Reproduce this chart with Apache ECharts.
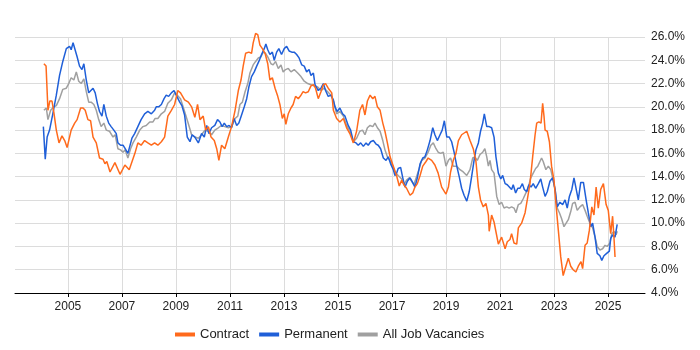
<!DOCTYPE html>
<html>
<head>
<meta charset="utf-8">
<script src="https://cdn.jsdelivr.net/npm/echarts@6/dist/echarts.min.js"></script>
<style>html,body{margin:0;padding:0;background:#fff}#c{width:700px;height:350px}</style>
</head>
<body>
<div id="c"></div>
<script>
const yearTicks = [2005, 2007, 2009, 2011, 2013, 2015, 2017, 2019, 2021, 2023, 2025];

const contractYears = [2004.11,2004.19,2004.26,2004.33,2004.41,2004.48,2004.57,2004.67,2004.78,2004.88,2004.97,2005.04,2005.12,2005.25,2005.34,2005.47,2005.56,2005.64,2005.74,2005.84,2005.93,2006.05,2006.17,2006.30,2006.37,2006.44,2006.56,2006.74,2006.93,2007.11,2007.27,2007.48,2007.59,2007.71,2007.84,2007.96,2008.09,2008.21,2008.33,2008.46,2008.58,2008.70,2008.83,2008.95,2009.07,2009.17,2009.32,2009.46,2009.58,2009.70,2009.80,2009.89,2010.01,2010.10,2010.20,2010.30,2010.42,2010.51,2010.59,2010.69,2010.81,2010.94,2011.06,2011.19,2011.31,2011.41,2011.49,2011.58,2011.70,2011.80,2011.86,2011.95,2012.03,2012.11,2012.20,2012.30,2012.40,2012.48,2012.57,2012.67,2012.77,2012.85,2012.94,2013.01,2013.07,2013.16,2013.26,2013.34,2013.43,2013.53,2013.63,2013.71,2013.80,2013.90,2014.00,2014.09,2014.17,2014.27,2014.37,2014.46,2014.54,2014.64,2014.70,2014.77,2014.83,2014.95,2015.07,2015.20,2015.32,2015.44,2015.57,2015.69,2015.81,2015.91,2016.00,2016.09,2016.19,2016.29,2016.37,2016.46,2016.56,2016.66,2016.74,2016.83,2016.93,2017.05,2017.17,2017.27,2017.36,2017.44,2017.54,2017.67,2017.77,2017.85,2017.94,2018.04,2018.14,2018.26,2018.34,2018.47,2018.59,2018.71,2018.84,2019.00,2019.09,2019.17,2019.27,2019.37,2019.46,2019.58,2019.77,2019.89,2020.01,2020.11,2020.20,2020.28,2020.38,2020.48,2020.57,2020.60,2020.69,2020.78,2020.85,2020.94,2021.06,2021.19,2021.27,2021.37,2021.43,2021.52,2021.62,2021.68,2021.80,2021.93,2022.01,2022.11,2022.21,2022.30,2022.36,2022.44,2022.52,2022.58,2022.63,2022.67,2022.75,2022.83,2022.91,2023.00,2023.07,2023.16,2023.25,2023.34,2023.44,2023.53,2023.62,2023.71,2023.81,2023.90,2024.00,2024.06,2024.15,2024.23,2024.31,2024.40,2024.48,2024.56,2024.64,2024.73,2024.83,2024.93,2025.01,2025.10,2025.17,2025.22,2025.26];
const contractValues = [23.7,23.5,19.7,20.5,20.5,19.5,18.0,16.9,17.5,17.1,16.5,16.6,18.0,18.6,18.9,19.9,19.9,19.7,18.9,18.8,17.4,16.9,15.6,15.5,15.1,15.3,14.4,15.2,14.2,15.0,14.6,16.0,16.9,16.7,17.1,16.9,16.7,16.9,16.7,17.0,17.4,19.2,19.7,20.2,21.4,21.2,20.6,20.4,20.0,19.1,20.2,18.9,19.2,18.0,18.3,17.4,17.1,16.4,15.4,16.7,16.4,17.4,18.3,19.7,21.4,22.3,23.5,24.6,24.7,24.6,25.5,26.3,26.2,25.3,25.0,24.6,23.7,22.3,22.5,21.6,20.9,20.2,19.0,19.4,18.5,19.4,19.9,20.2,20.9,20.7,21.0,21.3,21.2,21.3,21.8,21.9,21.6,20.7,21.3,21.9,22.0,21.6,21.5,21.2,19.7,19.0,18.7,19.0,18.2,17.7,16.9,17.9,19.7,20.2,19.3,20.5,21.0,20.7,20.9,20.0,19.7,18.6,17.9,16.9,15.7,14.9,14.1,13.2,13.7,13.3,13.0,12.4,12.6,13.1,13.4,14.1,14.9,15.3,15.6,15.4,15.0,14.3,13.1,12.5,13.1,14.4,15.4,16.0,17.1,17.6,17.9,17.1,16.4,15.3,13.1,12.0,11.4,11.7,10.7,9.3,10.7,10.1,10.0,8.2,8.8,7.8,8.4,8.6,9.1,8.3,8.2,9.6,10.0,10.9,12.0,13.4,15.7,17.6,18.6,18.7,18.6,20.3,19.2,18.0,17.9,17.0,14.9,13.7,11.7,9.4,7.1,5.5,6.3,7.0,6.3,6.0,5.8,6.3,6.7,6.1,8.1,8.3,9.4,11.4,10.7,13.1,11.3,12.9,13.4,11.6,11.1,9.1,10.6,8.8,7.1];

const permanentYears = [2004.09,2004.16,2004.23,2004.32,2004.44,2004.57,2004.69,2004.81,2004.94,2005.06,2005.12,2005.19,2005.25,2005.34,2005.43,2005.52,2005.59,2005.68,2005.77,2005.84,2005.93,2006.01,2006.09,2006.17,2006.26,2006.33,2006.42,2006.51,2006.60,2006.70,2006.79,2006.85,2006.95,2007.04,2007.12,2007.22,2007.29,2007.37,2007.47,2007.59,2007.71,2007.84,2007.96,2008.09,2008.21,2008.27,2008.36,2008.46,2008.56,2008.64,2008.73,2008.83,2008.93,2009.01,2009.14,2009.22,2009.32,2009.42,2009.52,2009.60,2009.70,2009.83,2009.95,2010.05,2010.14,2010.22,2010.32,2010.44,2010.54,2010.63,2010.71,2010.79,2010.88,2010.97,2011.06,2011.15,2011.25,2011.33,2011.43,2011.53,2011.62,2011.70,2011.80,2011.90,2011.99,2012.07,2012.17,2012.27,2012.33,2012.40,2012.48,2012.57,2012.64,2012.73,2012.81,2012.91,2013.01,2013.10,2013.19,2013.29,2013.38,2013.47,2013.56,2013.66,2013.75,2013.84,2013.93,2014.00,2014.09,2014.15,2014.21,2014.27,2014.37,2014.46,2014.54,2014.64,2014.74,2014.83,2014.89,2014.97,2015.07,2015.17,2015.26,2015.38,2015.47,2015.57,2015.67,2015.75,2015.84,2015.94,2016.04,2016.12,2016.21,2016.31,2016.41,2016.49,2016.58,2016.68,2016.78,2016.86,2016.95,2017.05,2017.11,2017.17,2017.23,2017.32,2017.40,2017.48,2017.57,2017.67,2017.73,2017.79,2017.85,2017.94,2018.04,2018.14,2018.22,2018.31,2018.41,2018.51,2018.59,2018.68,2018.78,2018.86,2018.94,2019.03,2019.12,2019.21,2019.30,2019.40,2019.49,2019.58,2019.67,2019.77,2019.86,2019.95,2020.04,2020.11,2020.20,2020.28,2020.36,2020.42,2020.51,2020.60,2020.69,2020.78,2020.85,2020.94,2021.03,2021.10,2021.19,2021.27,2021.34,2021.43,2021.49,2021.58,2021.66,2021.74,2021.83,2021.90,2021.99,2022.07,2022.15,2022.23,2022.32,2022.42,2022.51,2022.58,2022.67,2022.75,2022.85,2022.95,2023.04,2023.12,2023.22,2023.32,2023.41,2023.49,2023.57,2023.66,2023.74,2023.81,2023.90,2023.99,2024.09,2024.19,2024.27,2024.36,2024.43,2024.52,2024.60,2024.70,2024.77,2024.85,2024.95,2025.05,2025.10,2025.17,2025.26,2025.34];
const permanentValues = [18.3,15.5,17.4,18.0,19.4,21.0,22.7,23.9,25.0,25.2,24.9,25.5,25.4,24.3,23.5,23.2,23.7,22.3,21.2,21.2,21.6,21.2,20.3,19.6,19.2,20.2,19.2,18.6,18.3,18.0,17.7,16.9,16.7,16.7,16.4,16.0,16.6,17.3,17.7,18.3,18.9,19.4,19.6,19.4,19.7,20.0,20.0,20.2,20.7,21.0,20.9,21.2,21.4,21.0,20.4,20.1,19.3,17.4,17.0,17.6,17.4,16.9,17.7,17.4,18.4,17.7,18.2,18.4,18.9,18.7,18.3,18.6,18.3,18.4,18.2,19.0,18.4,18.6,19.3,20.0,20.7,21.7,22.6,23.0,23.5,23.9,24.5,25.0,25.4,24.9,24.5,24.7,24.0,24.7,25.0,24.5,25.0,25.2,24.8,24.7,24.7,24.5,24.2,23.6,23.5,23.0,23.2,22.7,22.9,21.9,22.0,21.4,21.6,22.0,21.4,20.9,21.0,20.6,20.0,19.6,19.9,19.4,19.2,18.4,18.0,17.0,16.9,16.7,16.9,16.6,16.9,16.7,17.0,17.1,16.8,16.7,16.4,15.6,15.4,15.7,15.1,14.6,14.1,14.3,14.7,14.8,13.9,13.1,13.6,13.9,13.8,13.4,13.1,13.9,15.1,15.6,15.7,16.3,17.1,18.2,17.6,17.1,17.6,18.0,18.8,17.4,17.4,17.0,16.1,14.9,14.0,13.0,12.4,11.9,12.7,14.0,15.4,16.3,16.9,17.9,18.6,19.4,18.3,18.3,18.2,17.4,15.7,14.3,13.8,14.1,13.4,13.3,13.4,12.9,13.3,12.6,13.0,13.0,13.4,12.9,12.7,13.3,13.1,13.4,13.0,13.4,13.8,13.1,12.3,12.7,13.6,13.9,12.9,11.4,11.8,11.6,12.0,11.3,12.3,12.9,13.9,13.8,12.0,13.5,13.5,12.0,10.9,9.7,10.0,8.8,7.4,7.2,6.8,7.2,7.4,7.6,8.7,9.0,8.8,9.9];

const allYears = [2004.11,2004.20,2004.26,2004.36,2004.48,2004.57,2004.69,2004.81,2004.94,2005.03,2005.12,2005.22,2005.31,2005.40,2005.49,2005.59,2005.68,2005.77,2005.86,2005.96,2006.05,2006.14,2006.23,2006.33,2006.42,2006.54,2006.67,2006.75,2006.85,2006.95,2007.04,2007.12,2007.22,2007.32,2007.41,2007.53,2007.66,2007.78,2007.90,2008.03,2008.15,2008.23,2008.33,2008.46,2008.58,2008.70,2008.83,2008.95,2009.05,2009.17,2009.32,2009.44,2009.58,2009.70,2009.83,2009.95,2010.07,2010.20,2010.32,2010.44,2010.57,2010.69,2010.81,2010.94,2011.06,2011.19,2011.29,2011.37,2011.46,2011.56,2011.66,2011.74,2011.86,2011.95,2012.05,2012.15,2012.23,2012.32,2012.42,2012.52,2012.60,2012.69,2012.79,2012.89,2012.97,2013.06,2013.16,2013.26,2013.38,2013.51,2013.63,2013.75,2013.88,2014.00,2014.12,2014.25,2014.37,2014.49,2014.62,2014.74,2014.83,2014.95,2015.07,2015.20,2015.32,2015.44,2015.57,2015.69,2015.81,2015.91,2016.00,2016.09,2016.19,2016.29,2016.37,2016.46,2016.56,2016.66,2016.74,2016.83,2016.93,2017.03,2017.11,2017.23,2017.36,2017.44,2017.54,2017.64,2017.73,2017.81,2017.91,2018.01,2018.10,2018.22,2018.34,2018.44,2018.53,2018.63,2018.71,2018.80,2018.90,2019.00,2019.09,2019.17,2019.27,2019.40,2019.52,2019.64,2019.77,2019.89,2019.99,2020.07,2020.16,2020.26,2020.36,2020.44,2020.51,2020.57,2020.63,2020.69,2020.78,2020.88,2020.97,2021.06,2021.15,2021.25,2021.34,2021.43,2021.52,2021.59,2021.68,2021.77,2021.86,2021.96,2022.05,2022.14,2022.23,2022.32,2022.40,2022.48,2022.54,2022.60,2022.70,2022.79,2022.88,2022.95,2023.04,2023.12,2023.20,2023.28,2023.37,2023.44,2023.53,2023.62,2023.69,2023.78,2023.86,2023.96,2024.06,2024.15,2024.23,2024.33,2024.43,2024.52,2024.60,2024.70,2024.80,2024.89,2024.97,2025.07,2025.14,2025.22,2025.30,2025.34];
const allValues = [19.7,19.9,18.9,19.7,20.0,20.1,20.7,21.5,21.6,22.0,22.5,22.3,23.0,22.2,22.0,22.4,21.3,20.4,20.4,20.2,19.7,18.9,18.3,18.6,18.0,17.9,17.4,17.6,16.4,16.3,16.1,16.3,15.6,16.4,16.9,17.4,18.0,18.3,18.4,18.7,18.7,19.0,19.0,19.4,19.6,20.3,20.6,21.2,21.0,20.7,19.6,18.7,17.6,17.4,17.3,17.6,18.0,17.9,17.6,18.0,18.2,18.4,18.3,18.2,18.3,19.0,19.2,20.2,20.4,21.3,22.0,22.9,23.6,23.9,24.2,24.3,24.7,24.6,24.2,23.7,23.6,23.9,23.3,23.6,23.0,23.2,23.3,23.0,23.2,22.9,22.6,22.2,22.0,21.9,21.8,21.7,21.4,21.6,21.3,21.0,20.5,19.4,19.6,19.2,18.4,17.9,17.0,17.3,17.9,18.0,17.6,18.2,18.4,18.3,18.6,18.2,17.9,17.1,16.3,15.7,15.4,14.9,14.4,14.1,13.8,13.3,13.7,13.9,13.6,13.3,14.0,14.7,15.4,15.6,16.1,16.7,16.9,16.4,16.1,16.0,16.1,14.9,15.4,15.6,14.9,14.9,14.6,14.4,14.1,14.6,15.6,15.7,15.4,15.9,16.1,16.4,15.7,14.9,15.4,14.6,14.3,12.3,11.6,11.8,11.3,11.4,11.3,11.4,11.3,10.9,11.6,11.7,12.1,12.6,13.1,13.9,14.3,14.7,14.9,15.3,15.6,15.3,14.6,14.9,14.6,13.9,12.9,11.3,10.9,10.4,9.7,9.7,10.3,11.0,11.7,11.8,11.1,11.4,11.6,11.1,10.6,10.0,9.6,8.8,8.0,7.7,7.8,8.1,8.0,8.3,9.1,9.3,9.0,9.3];

function pairs(xs, ys) { return xs.map((x, i) => [x, ys[i]]); }

const chart = echarts.init(document.getElementById('c'), null, { renderer: 'canvas' });
const font = 'Liberation Sans, Arial, sans-serif';
const gridColor = '#dcdcdc';

function lineSeries(name, color, xs, ys) {
  return {
    name: name, type: 'line', data: pairs(xs, ys),
    showSymbol: false, symbol: 'none', clip: false,
    lineStyle: { color: color, width: 1.5 }, itemStyle: { color: color },
    emphasis: { disabled: true }, animation: false
  };
}

chart.setOption({
  animation: false,
  textStyle: { fontFamily: font },
  grid: { left: 15, right: 55, top: 37, bottom: 57, containLabel: false },
  legend: {
    bottom: 4, left: 170, itemWidth: 20, itemHeight: 4, itemGap: 10, icon: 'rect',
    textStyle: { fontFamily: font, fontSize: 13, color: '#222' },
    data: ['Contract', 'Permanent', 'All Job Vacancies']
  },
  xAxis: {
    type: 'value', min: 2003.04, max: 2026.37,
    axisLine: { show: true, lineStyle: { color: '#000', width: 1 } },
    axisTick: { show: true, length: 4, customValues: yearTicks, lineStyle: { color: '#000' } },
    axisLabel: { customValues: yearTicks, color: '#222', fontSize: 12, fontFamily: font, margin: 8,
                 formatter: v => String(Math.round(v)) },
    splitLine: { show: true, customValues: yearTicks, lineStyle: { color: gridColor, width: 1 } }
  },
  yAxis: {
    type: 'value', position: 'right', min: 4, max: 26, interval: 2,
    axisLine: { show: false }, axisTick: { show: false },
    axisLabel: { color: '#222', fontSize: 12, fontFamily: font, margin: 6,
                 formatter: v => v.toFixed(1) + '%' },
    splitLine: { show: true, lineStyle: { color: gridColor, width: 1 } }
  },
  series: [
    lineSeries('All Job Vacancies', '#a0a0a0', allYears, allValues),
    lineSeries('Permanent', '#1f5fd8', permanentYears, permanentValues),
    lineSeries('Contract', '#ff6a1c', contractYears, contractValues)
  ]
});
</script>
</body>
</html>
